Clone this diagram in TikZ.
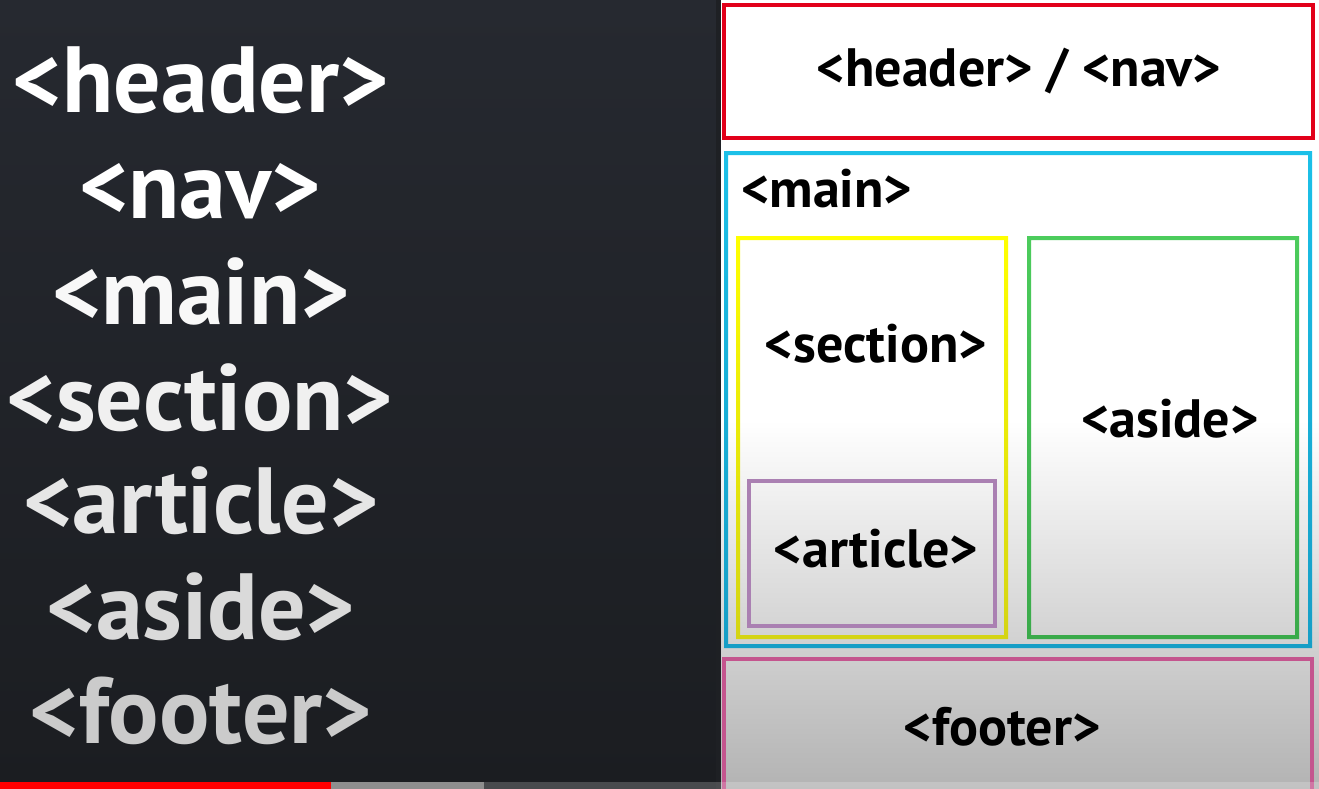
\documentclass[tikz,border=0pt]{standalone}
\usepackage{fontspec}
\setmainfont{PT Sans}
\definecolor{darktop}{RGB}{38,41,48}
\definecolor{darkbot}{RGB}{27,29,33}
\definecolor{edge}{RGB}{30,32,36}
\definecolor{bggray}{RGB}{179,179,179}
\definecolor{tagA}{RGB}{248,248,248}
\definecolor{tagB}{RGB}{240,240,240}
\definecolor{tagC}{RGB}{230,230,230}
\definecolor{tagD}{RGB}{218,218,218}
\definecolor{tagE}{RGB}{203,203,203}
\definecolor{boxred}{RGB}{226,0,26}
\definecolor{cyantop}{RGB}{28,192,232}
\definecolor{cyanbot}{RGB}{22,158,198}
\definecolor{yeltop}{RGB}{255,255,0}
\definecolor{yelbot}{RGB}{212,212,20}
\definecolor{purp}{RGB}{170,128,178}
\definecolor{grntop}{RGB}{76,204,92}
\definecolor{grnbot}{RGB}{58,170,74}
\definecolor{pink}{RGB}{196,85,142}
\definecolor{bargray}{RGB}{142,142,142}
\definecolor{barred}{RGB}{255,0,0}
\begin{document}
\begin{tikzpicture}[x=1pt,y=-1pt,
  bigtag/.style={anchor=base,inner sep=0pt,font=\fontsize{94}{98}\selectfont\bfseries},
  smalltag/.style={anchor=base,inner sep=0pt,text=black,font=\fontsize{54}{58}\selectfont\bfseries},
]
\useasboundingbox (0,0) rectangle (1319,789);
% left dark panel
\shade[top color=darktop,bottom color=darkbot] (0,0) rectangle (720,789);
% right panel
\fill[white] (720,0) rectangle (1319,420);
\shade[top color=white,bottom color=bggray] (720,420) rectangle (1319,789);
\fill[edge] (716,0) rectangle (721,789);
% left labels
\node[bigtag,text=white] (lheader) at (201,113) {<header>};
\node[bigtag,text=white] (lnav) at (200,218) {<nav>};
\node[bigtag,text=tagA] (lmain) at (201,324) {<main>};
\node[bigtag,text=tagB] (lsection) at (200,430) {<section>};
\node[bigtag,text=tagC] (larticle) at (201,533) {<article>};
\node[bigtag,text=tagD] (laside) at (201,639) {<aside>};
\node[bigtag,text=tagE] (lfooter) at (201,743) {<footer>};
% header box
\draw[line width=4pt,boxred] (724,5) rectangle (1313,138);
% main box
\shade[top color=cyantop,bottom color=cyanbot,even odd rule]
  (724,151) rectangle (1312,648) (728,155) rectangle (1308,644);
% section box
\shade[top color=yeltop,bottom color=yelbot,even odd rule]
  (736,236) rectangle (1008,639) (740,240) rectangle (1004,635);
% article box
\draw[line width=4pt,purp] (749,481) rectangle (995,626);
% aside box
\shade[top color=grntop,bottom color=grnbot,even odd rule]
  (1027,236) rectangle (1299,639) (1031,240) rectangle (1295,635);
% footer box
\draw[line width=4pt,pink] (724,800) -- (724,659) -- (1312,659) -- (1312,800);
% right labels
\node[smalltag] (rhn) at (1019,87) {<header> / <nav>};
\node[smalltag,anchor=base west] (rmain) at (741,207) {<main>};
\node[smalltag] (rsection) at (876,362) {<section>};
\node[smalltag] (raside) at (1170,437) {<aside>};
\node[smalltag] (rarticle) at (876,567) {<article>};
\node[smalltag] (rfooter) at (1002,745) {<footer>};
% progress bar
\fill[barred] (0,782) rectangle (331,789);
\fill[bargray] (331,782) rectangle (484,789);
\fill[white,opacity=0.2] (484,782) rectangle (1319,789);
\end{tikzpicture}
\end{document}
